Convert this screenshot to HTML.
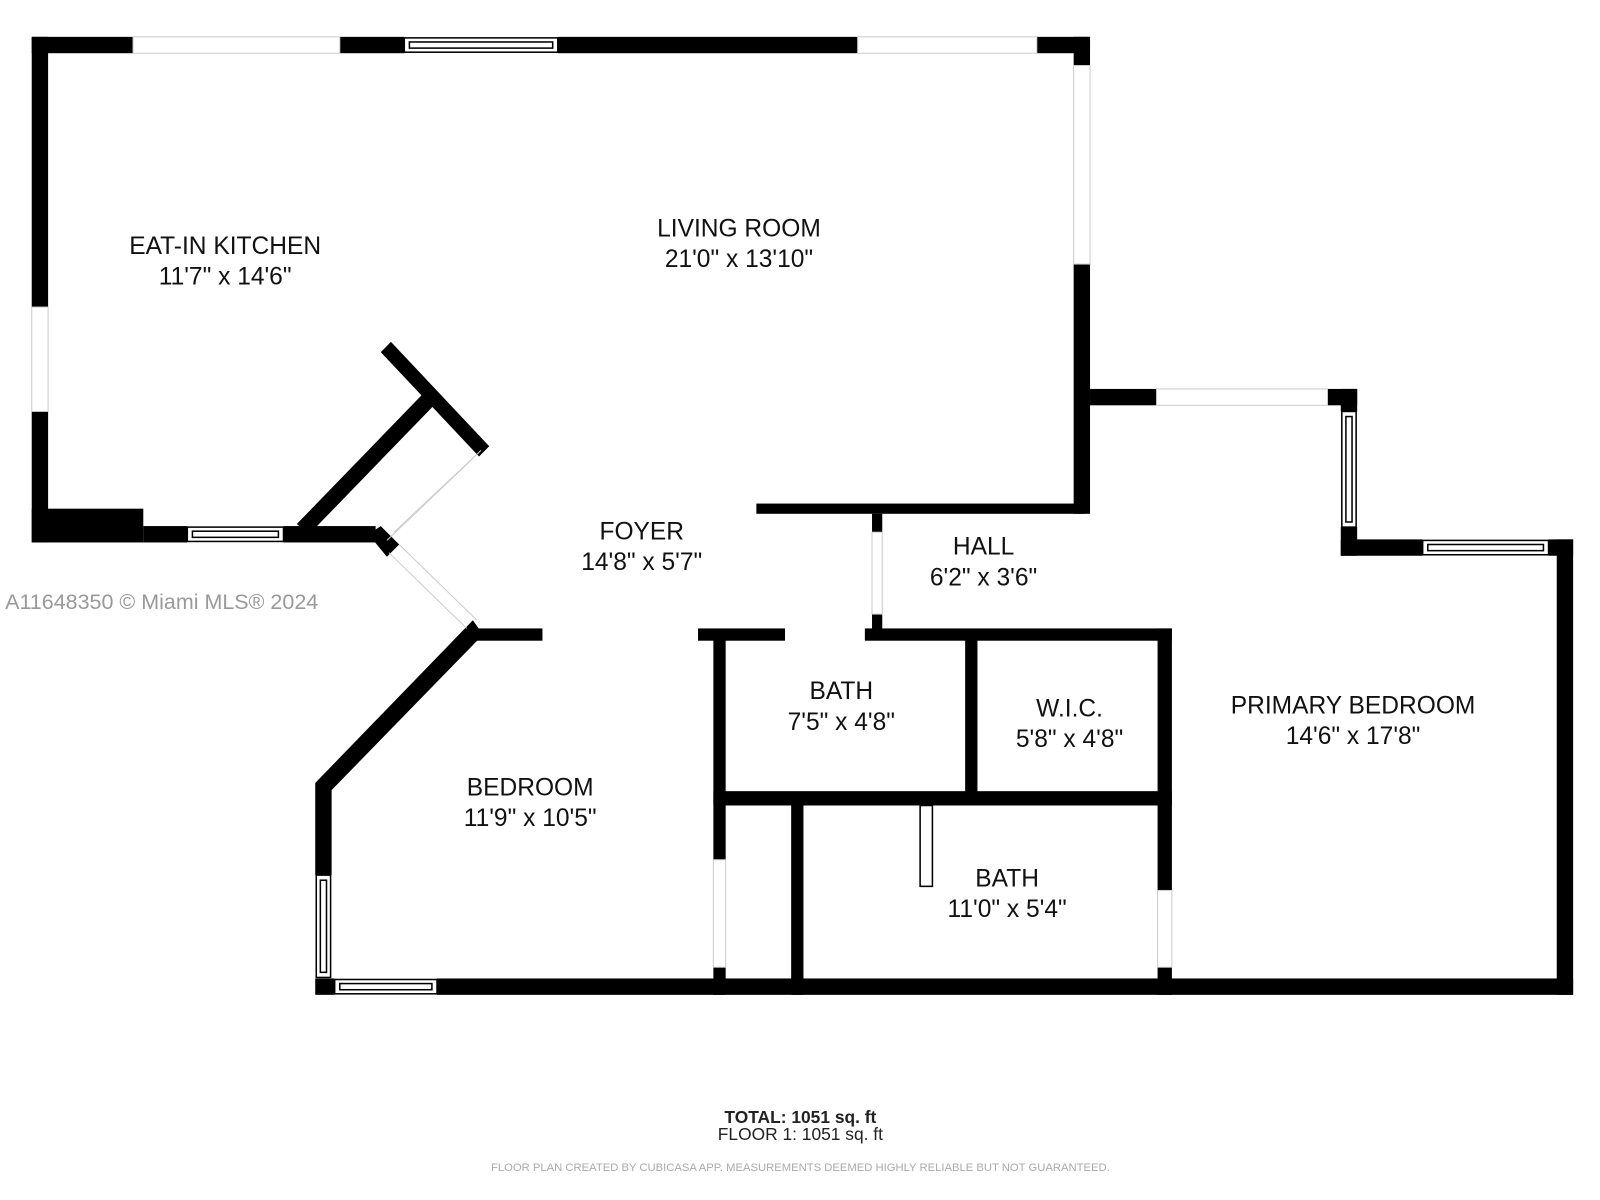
<!DOCTYPE html>
<html><head><meta charset="utf-8"><style>
html,body{margin:0;padding:0;background:#fff;}
svg{display:block;}
text{font-family:"Liberation Sans",sans-serif;}
</style></head><body>
<svg width="1600" height="1200" viewBox="0 0 1600 1200" xmlns="http://www.w3.org/2000/svg">
<g transform="scale(1.0235)">
<g fill="#000">
<rect x="31" y="36" width="99" height="16"/>
<rect x="332" y="36" width="63" height="16"/>
<rect x="545" y="36" width="293" height="16"/>
<rect x="1013" y="36" width="52" height="16"/>
<rect x="31" y="36" width="16" height="264"/>
<rect x="31" y="402" width="16" height="128"/>
<rect x="31" y="497" width="109" height="33"/>
<rect x="140" y="514" width="43" height="16"/>
<rect x="277" y="514" width="90" height="16"/>
<rect x="1049" y="36" width="16" height="28"/>
<rect x="1049" y="258" width="16" height="244"/>
<rect x="739" y="492" width="321" height="10"/>
<polygon points="372,344 382,334 478,436 468,446"/>
<polygon points="414,384 426,394 302,522 290,512"/>
<polygon points="360,522 372,514 390,532 378,544"/>
<rect x="1065" y="380" width="65" height="16"/>
<rect x="1297" y="380" width="29" height="16"/>
<rect x="1310" y="380" width="16" height="22"/>
<rect x="1310" y="515" width="16" height="28"/>
<rect x="1310" y="527" width="80" height="16"/>
<rect x="1513" y="527" width="24" height="16"/>
<rect x="1521" y="527" width="16" height="445"/>
<rect x="308" y="956" width="19" height="16"/>
<rect x="427" y="956" width="1110" height="16"/>
<rect x="308" y="765" width="16" height="90"/>
<polygon points="308,765 462,606 472,620 324,772"/>
<rect x="462" y="614" width="68" height="12"/>
<rect x="682" y="614" width="85" height="12"/>
<rect x="845" y="614" width="300" height="12"/>
<rect x="852" y="502" width="10" height="18"/>
<rect x="852" y="600" width="10" height="20"/>
<rect x="697" y="620" width="12" height="220"/>
<rect x="697" y="945" width="12" height="27"/>
<rect x="943" y="620" width="12" height="160"/>
<rect x="697" y="773" width="448" height="14"/>
<rect x="1131" y="614" width="14" height="256"/>
<rect x="1131" y="945" width="14" height="27"/>
<rect x="773" y="780" width="12" height="192"/>
</g>
<g fill="#fff" stroke="#000" stroke-width="1.5">
<rect x="395" y="37" width="150" height="14"/>
<rect x="400" y="41" width="140" height="6"/>
<rect x="183" y="515" width="94" height="14"/>
<rect x="188" y="519" width="84" height="6"/>
<rect x="1311" y="402" width="14" height="113"/>
<rect x="1315" y="407" width="6" height="103"/>
<rect x="1390" y="528" width="123" height="14"/>
<rect x="1395" y="532" width="113" height="6"/>
<rect x="309" y="855" width="14" height="100"/>
<rect x="313" y="860" width="6" height="90"/>
<rect x="327" y="957" width="100" height="14"/>
<rect x="332" y="961" width="90" height="6"/>
<rect x="899" y="787" width="12" height="79"/>
</g>
<g fill="none" stroke="#ccc" stroke-width="1">
<rect x="130" y="36" width="202" height="16"/>
<rect x="838" y="36" width="175" height="16"/>
<rect x="31" y="300" width="16" height="102"/>
<rect x="1049" y="64" width="16" height="194"/>
<rect x="1130" y="380" width="167" height="16"/>
<line x1="470" y1="440" x2="385" y2="520"/>
<line x1="462" y1="448" x2="378" y2="528"/>
<line x1="380" y1="540" x2="456" y2="614"/>
<line x1="390" y1="532" x2="466" y2="606"/>
<rect x="852" y="520" width="10" height="80"/>
<rect x="697" y="840" width="12" height="105"/>
<rect x="1131" y="870" width="14" height="75"/>
</g>
<g font-size="24" fill="#111" text-anchor="middle">
<text x="220" y="248">EAT-IN KITCHEN</text><text x="220" y="278">11'7" x 14'6"</text>
<text x="722" y="231">LIVING ROOM</text><text x="722" y="261">21'0" x 13'10"</text>
<text x="627" y="527">FOYER</text><text x="627" y="557">14'8" x 5'7"</text>
<text x="961" y="542">HALL</text><text x="961" y="572">6'2" x 3'6"</text>
<text x="822" y="683">BATH</text><text x="822" y="713">7'5" x 4'8"</text>
<text x="1045" y="700">W.I.C.</text><text x="1045" y="730">5'8" x 4'8"</text>
<text x="1322" y="697">PRIMARY BEDROOM</text><text x="1322" y="727">14'6" x 17'8"</text>
<text x="518" y="777">BEDROOM</text><text x="518" y="807">11'9" x 10'5"</text>
<text x="984" y="866">BATH</text><text x="984" y="896">11'0" x 5'4"</text>
</g>
<text x="5" y="595" font-size="21" fill="#999">A11648350 © Miami MLS® 2024</text>
<text x="782" y="1097" font-size="17" font-weight="bold" text-anchor="middle" fill="#222">TOTAL: 1051 sq. ft</text>
<text x="782" y="1114" font-size="17" text-anchor="middle" fill="#222">FLOOR 1: 1051 sq. ft</text>
<text x="782" y="1144" font-size="11" text-anchor="middle" fill="#aaa">FLOOR PLAN CREATED BY CUBICASA APP. MEASUREMENTS DEEMED HIGHLY RELIABLE BUT NOT GUARANTEED.</text>
</g>
</svg>
</body></html>
